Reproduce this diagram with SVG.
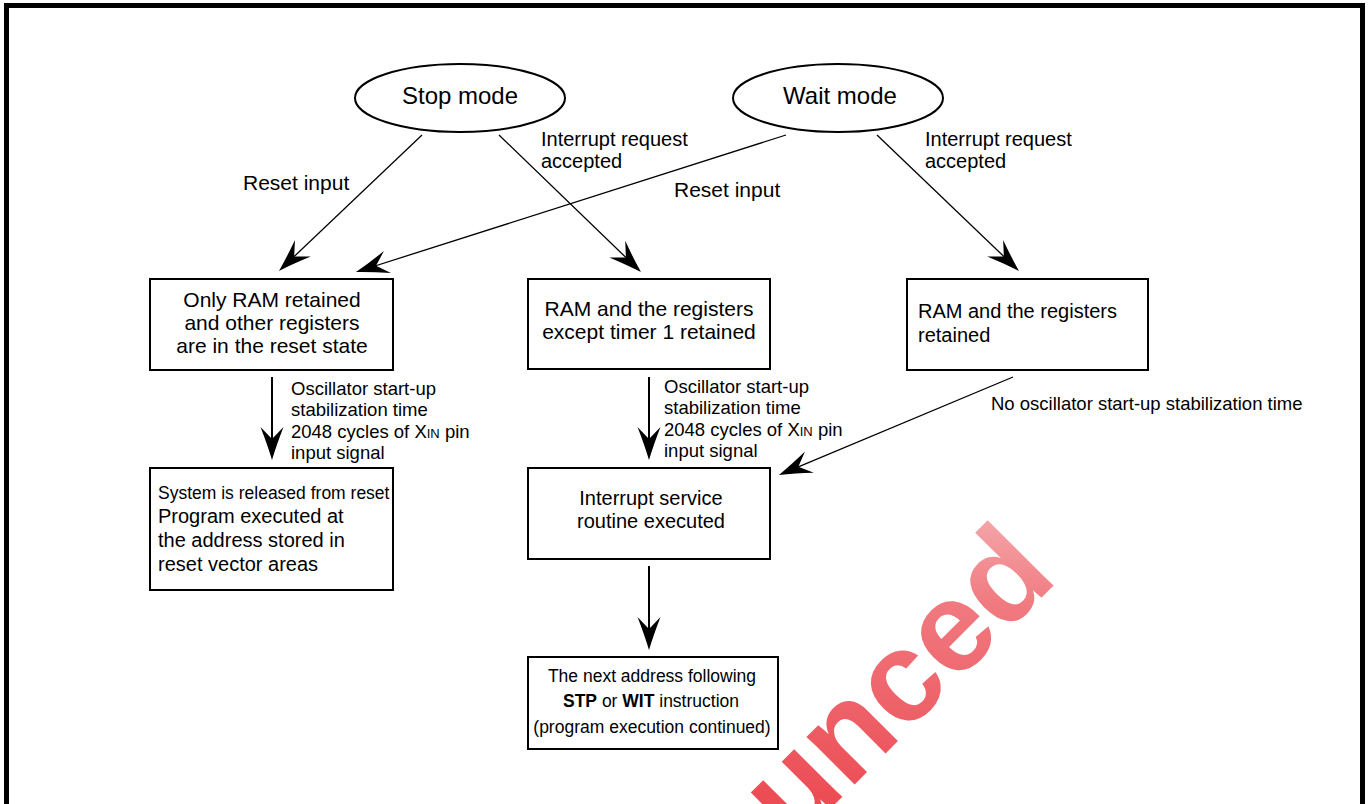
<svg xmlns="http://www.w3.org/2000/svg" width="1370" height="804" viewBox="0 0 1370 804">
<style>
text{font-family:"Liberation Sans",Arial,sans-serif;fill:#000}
.box{fill:#fff;stroke:#000;stroke-width:2}
.ell{fill:#fff;stroke:#000;stroke-width:2}
.thin{stroke:#000;stroke-width:1.3;fill:none}
.thick{stroke:#000;stroke-width:2;fill:none}
.t24{font-size:24px}
.t21{font-size:21px}
.t20{font-size:20px}
.t185{font-size:18.5px}
.t175{font-size:17.5px}
.mid{text-anchor:middle}
</style>
<defs>
<marker id="ah" markerUnits="userSpaceOnUse" orient="auto" viewBox="-36 -14 38 28" markerWidth="38" markerHeight="28" refX="-10" refY="0" overflow="visible">
<path d="M0,0 Q-15,-4.5 -33,-11.5 L-21,0 L-33,11.5 Q-15,4.5 0,0 Z" fill="#000"/>
</marker>
<linearGradient id="wm" gradientUnits="userSpaceOnUse" x1="790" y1="800" x2="1050" y2="560">
<stop offset="0" stop-color="#ec4a52"/>
<stop offset="0.6" stop-color="#f07a80"/>
<stop offset="1" stop-color="#f7c2c4"/>
</linearGradient>
</defs>
<rect width="1370" height="804" fill="#fff"/>
<text x="0" y="0" transform="translate(793,846) rotate(-45)" font-size="128" font-weight="bold" style="fill:url(#wm)">unced</text>
<rect x="6.5" y="5.5" width="1356" height="900" fill="none" stroke="#000" stroke-width="5"/>

<g id="connectors">
<line class="thin" x1="422" y1="135" x2="286.2" y2="264.1" marker-end="url(#ah)"/>
<line class="thin" x1="499" y1="135" x2="633.8" y2="265.1" marker-end="url(#ah)"/>
<line class="thin" x1="786" y1="135" x2="365.5" y2="269" marker-end="url(#ah)"/>
<line class="thin" x1="877" y1="135" x2="1011.8" y2="264.1" marker-end="url(#ah)"/>
<line class="thin" x1="1013" y1="377" x2="788.2" y2="471.1" marker-end="url(#ah)"/>
<line class="thick" x1="272" y1="377" x2="272" y2="450" marker-end="url(#ah)"/>
<line class="thick" x1="649" y1="377" x2="649" y2="450" marker-end="url(#ah)"/>
<line class="thick" x1="649" y1="566" x2="649" y2="640" marker-end="url(#ah)"/>
<text class="t21" x="243" y="190">Reset input</text>
<text class="t20" x="541" y="146">Interrupt request</text>
<text class="t20" x="541" y="168">accepted</text>
<text class="t21" x="674" y="197">Reset input</text>
<text class="t20" x="925" y="146">Interrupt request</text>
<text class="t20" x="925" y="168">accepted</text>
<text class="t185" x="291" y="395">Oscillator start-up</text>
<text class="t185" x="291" y="416">stabilization time</text>
<text class="t185" x="291" y="438">2048 cycles of X<tspan font-size="13">IN</tspan> pin</text>
<text class="t185" x="291" y="459">input signal</text>
<text class="t185" x="664" y="393">Oscillator start-up</text>
<text class="t185" x="664" y="414">stabilization time</text>
<text class="t185" x="664" y="436">2048 cycles of X<tspan font-size="13">IN</tspan> pin</text>
<text class="t185" x="664" y="457">input signal</text>
<text class="t185" x="991" y="410">No oscillator start-up stabilization time</text>
</g>

<g id="stop-mode">
<ellipse class="ell" cx="460" cy="98" rx="105" ry="34"/>
<text class="t24 mid" x="460" y="104">Stop mode</text>
</g>
<g id="wait-mode">
<ellipse class="ell" cx="838" cy="98" rx="105" ry="34"/>
<text class="t24 mid" x="840" y="104">Wait mode</text>
</g>

<g id="reset-state">
<rect class="box" x="150" y="279" width="243" height="91"/>
<text class="t21 mid" x="272" y="307">Only RAM retained</text>
<text class="t21 mid" x="272" y="330">and other registers</text>
<text class="t21 mid" x="272" y="353">are in the reset state</text>
</g>
<g id="regs-except-timer">
<rect class="box" x="528" y="279" width="242" height="90"/>
<text class="t21 mid" x="649" y="316">RAM and the registers</text>
<text class="t21 mid" x="649" y="339">except timer 1 retained</text>
</g>
<g id="regs-retained">
<rect class="box" x="907" y="279" width="241" height="91"/>
<text class="t20" x="918" y="318">RAM and the registers</text>
<text class="t20" x="918" y="342">retained</text>
</g>
<g id="released-from-reset">
<rect class="box" x="150" y="468" width="243" height="122"/>
<text class="t175" x="158" y="499">System is released from reset</text>
<text class="t20" x="158" y="523">Program executed at</text>
<text class="t20" x="158" y="547">the address stored in</text>
<text class="t20" x="158" y="571">reset vector areas</text>
</g>
<g id="interrupt-service">
<rect class="box" x="528" y="468" width="242" height="91"/>
<text class="t20 mid" x="651" y="505">Interrupt service</text>
<text class="t20 mid" x="651" y="528">routine executed</text>
</g>
<g id="next-address">
<rect class="box" x="528" y="657" width="250" height="92"/>
<text class="t175 mid" x="652" y="682">The next address following</text>
<text class="t175 mid" x="651" y="707"><tspan font-weight="bold">STP</tspan> or <tspan font-weight="bold">WIT</tspan> instruction</text>
<text class="t175 mid" x="652" y="733">(program execution continued)</text>
</g>
</svg>
